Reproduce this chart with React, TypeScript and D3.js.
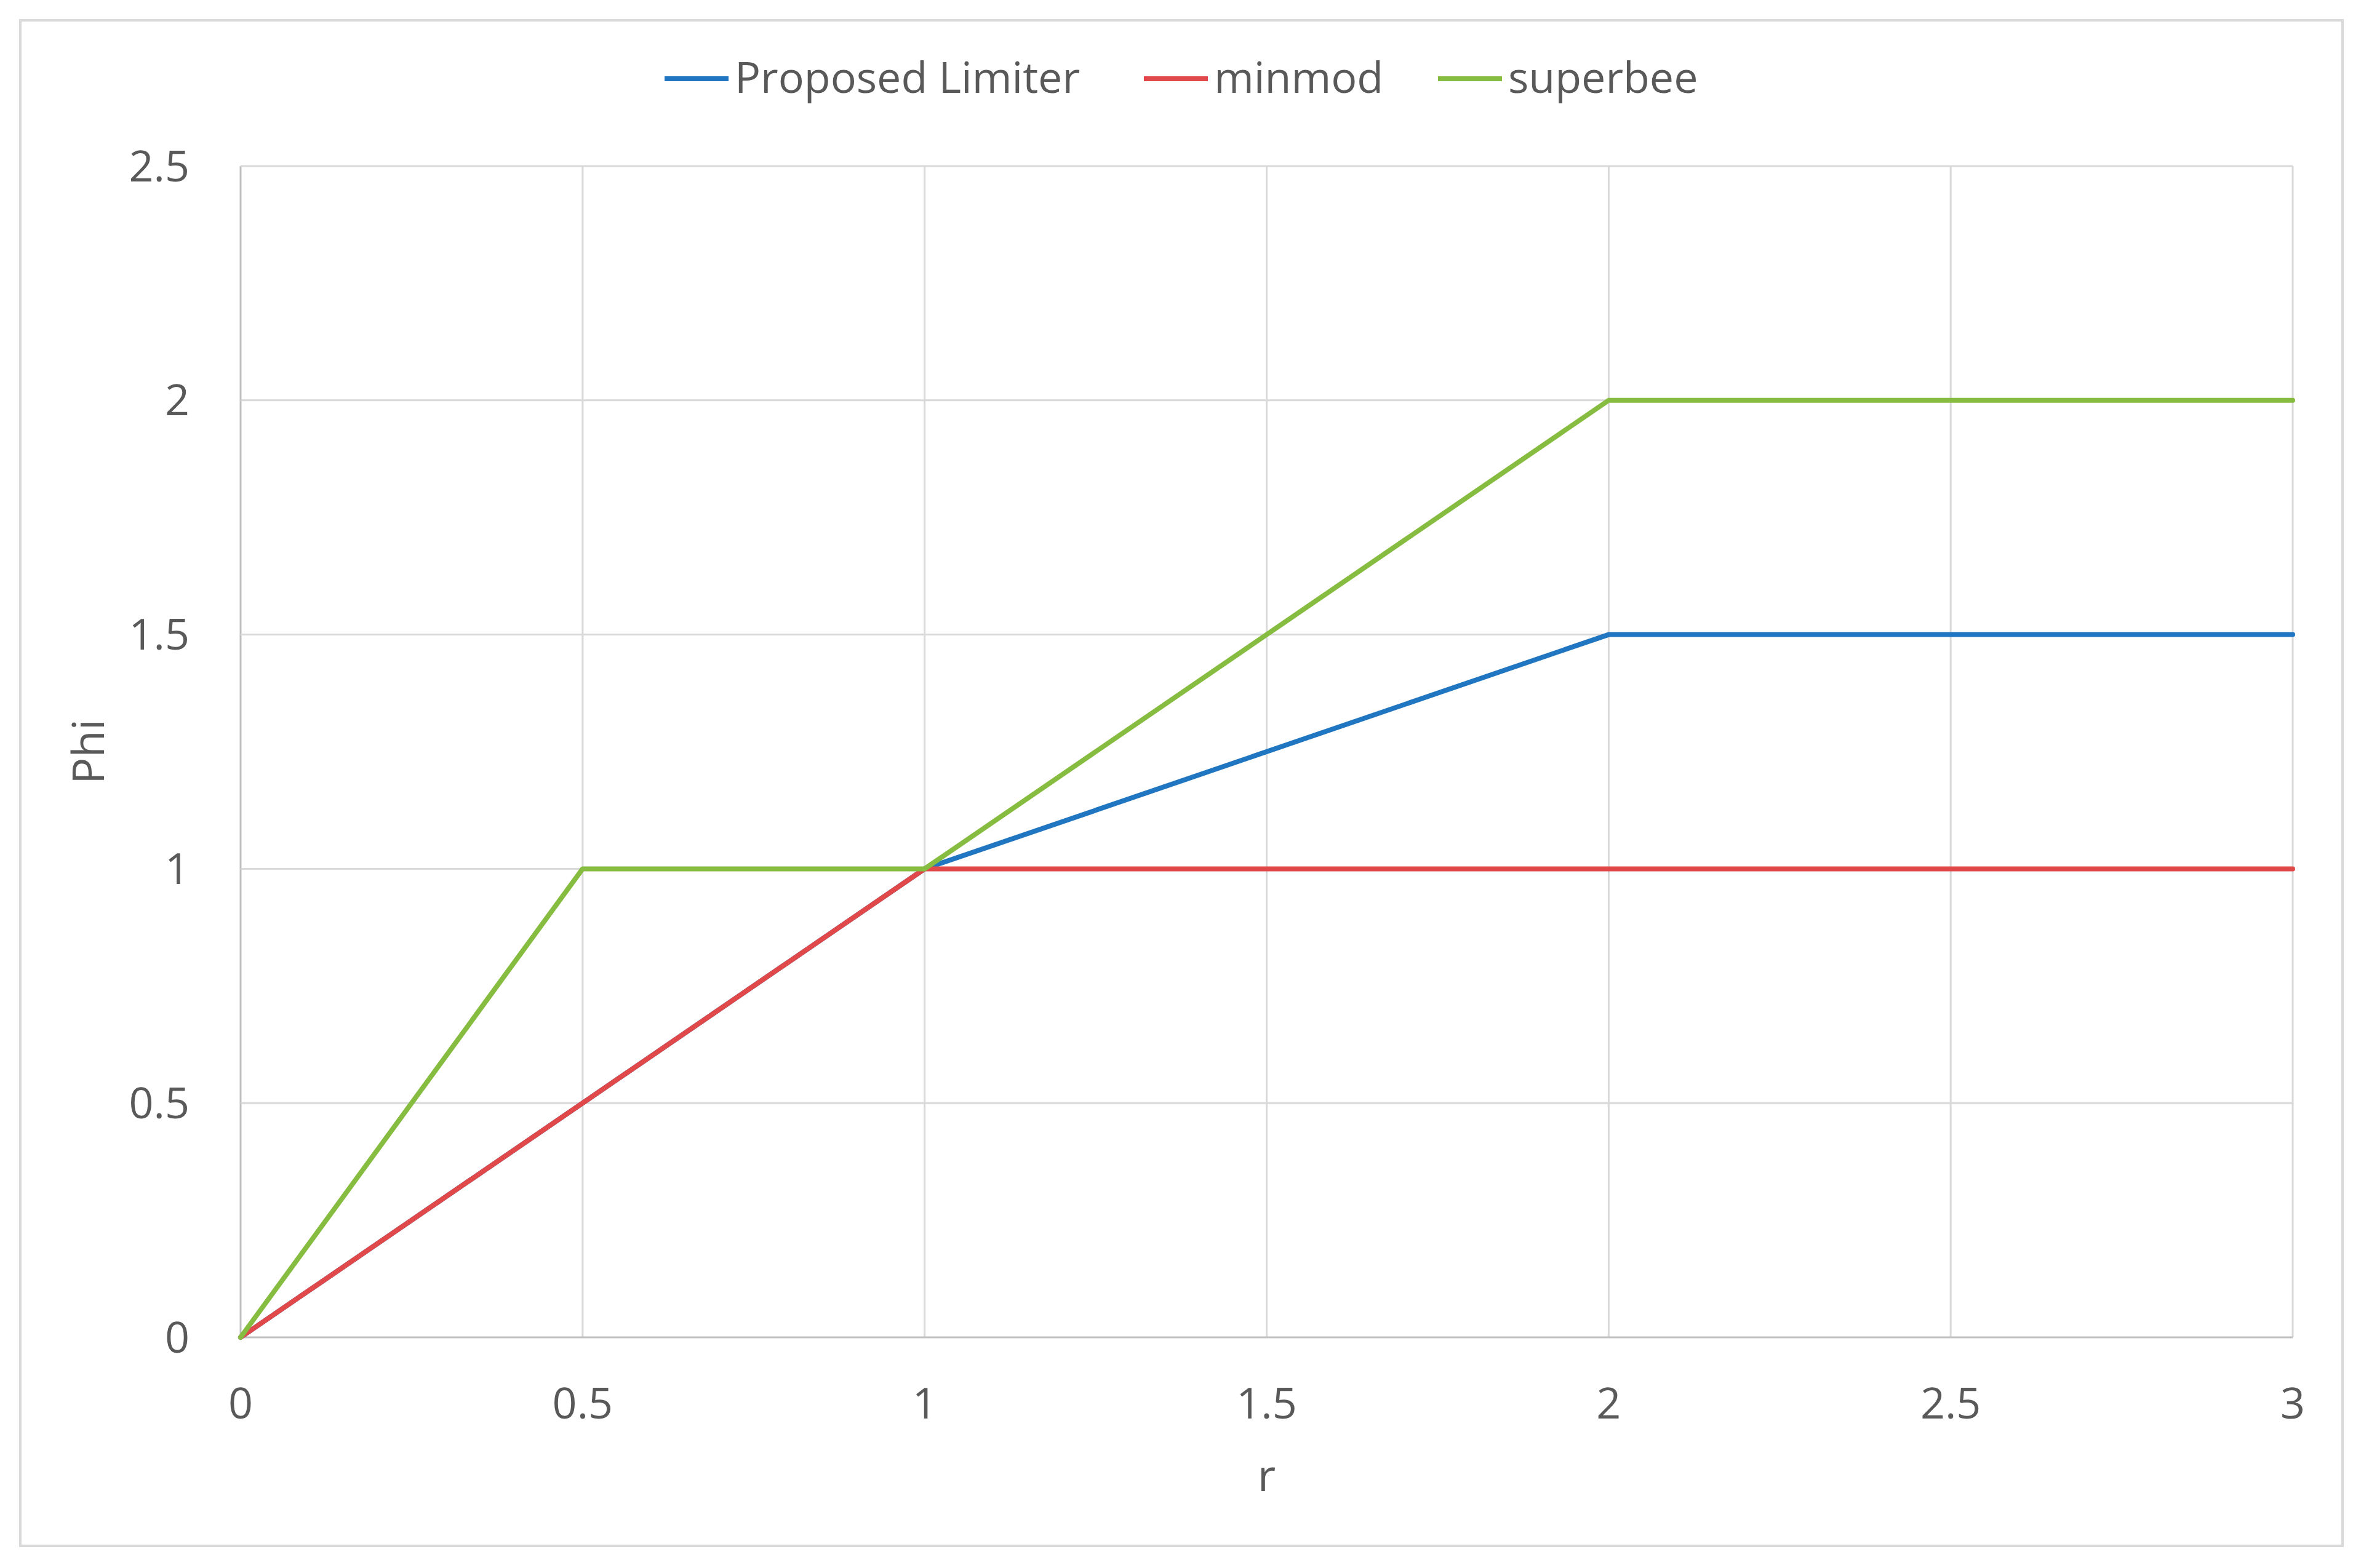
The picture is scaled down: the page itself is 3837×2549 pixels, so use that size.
import React, { useEffect, useRef } from "react";
import * as d3 from "d3";

// r values and Phi values for each limiter
const proposedR = [0, 1, 2, 3];
const proposedPhi = [0, 1, 1.5, 1.5];
const minmodR = [0, 1, 3];
const minmodPhi = [0, 1, 1];
const superbeeR = [0, 0.5, 1, 2, 3];
const superbeePhi = [0, 1, 1, 2, 2];

const xTicks = [0, 0.5, 1, 1.5, 2, 2.5, 3];
const yTicks = [0, 0.5, 1, 1.5, 2, 2.5];

const seriesNames = ["Proposed Limiter", "minmod", "superbee"];
const seriesColors = ["#2176c1", "#e0484a", "#86bc40"];

function App() {
  const svgRef = useRef<SVGSVGElement>(null);
  const width = 3837;
  const height = 2549;

  useEffect(() => {
    const svg = d3.select(svgRef.current);
    svg.selectAll("*").remove(); // clear previous render

    const margin = { top: 270, right: 111, bottom: 375, left: 391 };
    const font = "'Open Sans', sans-serif";
    const textColor = "#595959";

    // outer chart border
    svg
      .append("rect")
      .attr("x", 33)
      .attr("y", 33)
      .attr("width", 3807 - 33)
      .attr("height", 2513 - 33)
      .attr("fill", "white")
      .attr("stroke", "#d9d9d9")
      .attr("stroke-width", 4);

    const x = d3
      .scaleLinear()
      .domain([0, 3])
      .range([margin.left, width - margin.right]);

    const y = d3
      .scaleLinear()
      .domain([0, 2.5])
      .range([height - margin.bottom, margin.top]);

    // vertical grid lines
    svg
      .append("g")
      .selectAll("line")
      .data(xTicks)
      .join("line")
      .attr("x1", (d) => x(d))
      .attr("x2", (d) => x(d))
      .attr("y1", y(0))
      .attr("y2", y(2.5))
      .attr("stroke", (d) => (d === 0 ? "#bfbfbf" : "#d9d9d9"))
      .attr("stroke-width", 3);

    // horizontal grid lines
    svg
      .append("g")
      .selectAll("line")
      .data(yTicks)
      .join("line")
      .attr("x1", x(0))
      .attr("x2", x(3))
      .attr("y1", (d) => y(d))
      .attr("y2", (d) => y(d))
      .attr("stroke", (d) => (d === 0 ? "#bfbfbf" : "#d9d9d9"))
      .attr("stroke-width", 3);

    // x tick labels
    svg
      .append("g")
      .selectAll("text")
      .data(xTicks)
      .join("text")
      .attr("x", (d) => x(d))
      .attr("y", y(0) + 132)
      .attr("text-anchor", "middle")
      .style("font-family", font)
      .style("font-size", "70px")
      .attr("fill", textColor)
      .text((d) => d3.format("")(d));

    // y tick labels
    svg
      .append("g")
      .selectAll("text")
      .data(yTicks)
      .join("text")
      .attr("x", x(0) - 83)
      .attr("y", (d) => y(d))
      .attr("dy", "0.35em")
      .attr("text-anchor", "end")
      .style("font-family", font)
      .style("font-size", "70px")
      .attr("fill", textColor)
      .text((d) => d3.format("")(d));

    // axis titles
    svg
      .append("text")
      .attr("x", (x(0) + x(3)) / 2)
      .attr("y", 2424)
      .attr("text-anchor", "middle")
      .style("font-family", font)
      .style("font-size", "72px")
      .attr("fill", textColor)
      .text("r");

    svg
      .append("text")
      .attr("transform", `translate(169,${(y(0) + y(2.5)) / 2})rotate(-90)`)
      .attr("text-anchor", "middle")
      .style("font-family", font)
      .style("font-size", "72px")
      .attr("fill", textColor)
      .text("Phi");

    // lines
    const line = d3
      .line<[number, number]>()
      .x((d) => x(d[0]))
      .y((d) => y(d[1]));

    const seriesData: [number, number][][] = [
      proposedR.map((r, i) => [r, proposedPhi[i]]),
      minmodR.map((r, i) => [r, minmodPhi[i]]),
      superbeeR.map((r, i) => [r, superbeePhi[i]]),
    ];

    svg
      .append("g")
      .selectAll("path")
      .data(seriesData)
      .join("path")
      .attr("d", (d) => line(d))
      .attr("fill", "none")
      .attr("stroke", (d, i) => seriesColors[i])
      .attr("stroke-width", 8)
      .attr("stroke-linejoin", "round")
      .attr("stroke-linecap", "round");

    // legend
    const legendX = [1080, 1859, 2337];
    const legend = svg
      .append("g")
      .selectAll("g")
      .data(seriesNames)
      .join("g")
      .attr("transform", (d, i) => `translate(${legendX[i]},128)`);

    legend
      .append("line")
      .attr("x1", 0)
      .attr("x2", 104)
      .attr("y1", 0)
      .attr("y2", 0)
      .attr("stroke", (d, i) => seriesColors[i])
      .attr("stroke-width", 8);

    legend
      .append("text")
      .attr("x", 114)
      .attr("y", 23)
      .style("font-family", font)
      .style("font-size", "70px")
      .attr("fill", textColor)
      .text((d) => d);
  }, []);

  return (
    <svg
      ref={svgRef}
      width={width}
      height={height}
      style={{ position: "absolute", left: 0, top: 0, background: "white" }}
    ></svg>
  );
}

export default App;
